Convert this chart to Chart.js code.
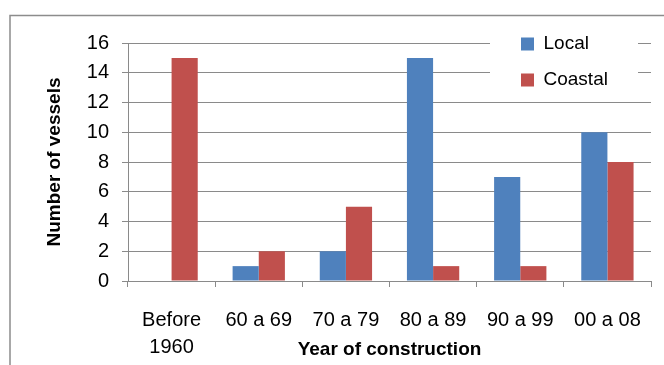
<!DOCTYPE html>
<html><head><meta charset="utf-8">
<script src="https://cdn.jsdelivr.net/npm/chart.js@4/dist/chart.umd.min.js"></script>
<style>html,body{margin:0;padding:0;background:#fff;}canvas{display:block}</style>
</head><body>
<canvas id="c" width="664" height="365"></canvas>
<script>
const categories = [['Before', '1960'], '60 a 69', '70 a 79', '80 a 89', '90 a 99', '00 a 08'];
const localValues = [0, 1, 2, 15, 7, 10];
const coastalValues = [15, 2, 5, 1, 1, 8];
const yTickValues = [0, 2, 4, 6, 8, 10, 12, 14, 16];
const seriesNames = ['Local', 'Coastal'];

const GRID = '#8a8a8a';
Chart.defaults.font.family = '"Liberation Sans", Arial, sans-serif';
Chart.defaults.color = '#000';

const framePlugin = {
  id: 'frame',
  beforeDraw(chart) {
    const ctx = chart.ctx;
    ctx.save();
    ctx.strokeStyle = '#8c8c8c';
    ctx.lineWidth = 1.5;
    ctx.strokeRect(10, 15.5, 720, 420);
    ctx.restore();
  }
};

const legendPlace = {
  id: 'legendPlace',
  afterLayout(chart) {
    const lg = chart.legend;
    if (!lg) return;
    lg.left = 504; lg.top = 17.5;
    lg.right = lg.left + lg.width;
    lg.bottom = lg.top + 120;
  },
  afterDatasetsDraw(chart) {
    const ctx = chart.ctx;
    ctx.save();
    ctx.fillStyle = '#fff';
    ctx.fillRect(490, 30, 148, 62);
    ctx.restore();
    chart.legend.draw();
  }
};

new Chart(document.getElementById('c'), {
  type: 'bar',
  data: {
    labels: categories,
    datasets: [
      { label: seriesNames[0], data: localValues, backgroundColor: '#4F81BD', borderWidth: 0 },
      { label: seriesNames[1], data: coastalValues, backgroundColor: '#C0504D', borderWidth: 0 }
    ]
  },
  options: {
    responsive: false,
    devicePixelRatio: 1,
    animation: false,
    categoryPercentage: 0.6,
    barPercentage: 1.0,
    layout: { padding: { top: 43, right: 13, left: 0, bottom: 0 } },
    plugins: {
      tooltip: { enabled: false },
      legend: {
        position: 'chartArea',
        align: 'start',
        labels: {
          boxWidth: 13, boxHeight: 13, padding: 17,
          font: { size: 19 }, color: '#000'
        }
      }
    },
    scales: {
      x: {
        grid: { display: true, drawOnChartArea: false, drawTicks: true, tickLength: 6, color: GRID, offset: true },
        border: { color: GRID, width: 1 },
        ticks: { font: { size: 20, lineHeight: 1.35 }, padding: 20, maxRotation: 0, autoSkip: false, color: '#000' },
        title: { display: true, text: 'Year of construction', font: { size: 19, weight: 'bold' }, padding: { top: 0, bottom: 4 }, color: '#000' },
        afterFit(scale) { scale.height = 84; }
      },
      y: {
        min: 0, max: 16,
        afterBuildTicks(scale) { scale.ticks = yTickValues.map(v => ({ value: v })); },
        grid: { color: GRID, tickLength: 6, lineWidth: 1 },
        border: { color: GRID, width: 1 },
        ticks: { font: { size: 20 }, padding: 13, color: '#000' },
        title: { display: true, text: 'Number of vessels', font: { size: 19, weight: 'bold' }, padding: { top: 43, bottom: 0 }, color: '#000' },
        afterFit(scale) { scale.width = 128; }
      }
    }
  },
  plugins: [framePlugin, legendPlace]
});
</script>
</body></html>
